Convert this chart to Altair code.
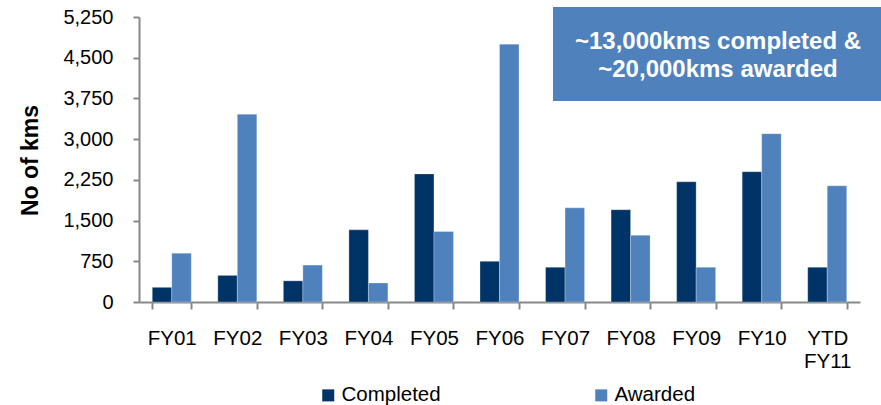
import altair as alt
import pandas as pd

categories = ["FY01", "FY02", "FY03", "FY04", "FY05", "FY06", "FY07", "FY08", "FY09", "FY10", "YTD FY11"]
completed = [270, 490, 390, 1330, 2360, 750, 640, 1700, 2215, 2400, 640]
awarded = [900, 3460, 680, 350, 1300, 4750, 1735, 1230, 640, 3100, 2140]
series = ["Completed", "Awarded"]
colors = ["#003366", "#4F81BD"]
y_ticks = [0, 750, 1500, 2250, 3000, 3750, 4500, 5250]
note_text = "~13,000kms completed &\n~20,000kms awarded"

rows = []
for i, c in enumerate(categories):
    rows.append({"cat": c, "series": "Completed", "value": completed[i]})
    rows.append({"cat": c, "series": "Awarded", "value": awarded[i]})
df = pd.DataFrame(rows)

FONT = "Liberation Sans, Arial, sans-serif"
AX = "#888888"

bars = alt.Chart(df).mark_bar(stroke="#ffffff", strokeOpacity=0.35, strokeWidth=0.8).encode(
    x=alt.X("cat:N", sort=categories,
            scale=alt.Scale(paddingInner=0.405, paddingOuter=0.2025),
            axis=alt.Axis(title=None, labelAngle=0, tickBand="extent", ticks=True,
                          tickSize=7, tickColor=AX, tickWidth=2, domainColor=AX, domainWidth=2,
                          labelFontSize=20.5, labelFont=FONT, labelColor="#000000",
                          labelPadding=19, labelLineHeight=23,
                          labelExpr="datum.value == 'YTD FY11' ? ['YTD', 'FY11'] : datum.value")),
    xOffset=alt.XOffset("series:N", sort=series, scale=alt.Scale(paddingInner=0, paddingOuter=0)),
    y=alt.Y("value:Q", scale=alt.Scale(domain=[0, 5250], nice=False),
            axis=alt.Axis(title="No of kms", values=y_ticks, format=",.0f", grid=False,
                          tickSize=6, tickColor=AX, tickWidth=2, domainColor=AX, domainWidth=2,
                          labelFontSize=20, labelFont=FONT, labelColor="#000000", labelPadding=20,
                          titleFont=FONT, titleFontSize=23, titleFontWeight="bold", titleColor="#000000",
                          titleX=-109, titleY=143, titleAngle=270, titleAlign="center",
                          titleBaseline="middle")),
    color=alt.Color("series:N", sort=series, scale=alt.Scale(domain=series, range=colors),
                    legend=alt.Legend(title=None, orient="none", legendX=179, legendY=368,
                                      direction="horizontal", columns=2, columnPadding=150,
                                      symbolType="square", symbolSize=144, symbolStrokeWidth=0,
                                      labelFontSize=20.5, labelFont=FONT, labelColor="#000000",
                                      labelOffset=3)),
)

note_df = pd.DataFrame({"t": [note_text]})
box = alt.Chart(note_df).mark_rect(color="#4F81BD").encode(
    x=alt.value(414), x2=alt.value(745), y=alt.value(-10), y2=alt.value(84)
)
note = alt.Chart(note_df).mark_text(
    color="#ffffff", fontSize=24, fontWeight="bold", font=FONT, lineBreak="\n",
    lineHeight=28, align="center", baseline="middle"
).encode(text="t:N", x=alt.value(579), y=alt.value(25))

chart = alt.layer(bars, box, note).properties(
    width=721, height=285,
    autosize=alt.AutoSizeParams(type="none"),
    padding={"left": 139, "top": 17, "right": 21, "bottom": 103},
).configure_view(stroke=None)

chart.save("out.html", embed_options={"renderer": "svg", "actions": False})
